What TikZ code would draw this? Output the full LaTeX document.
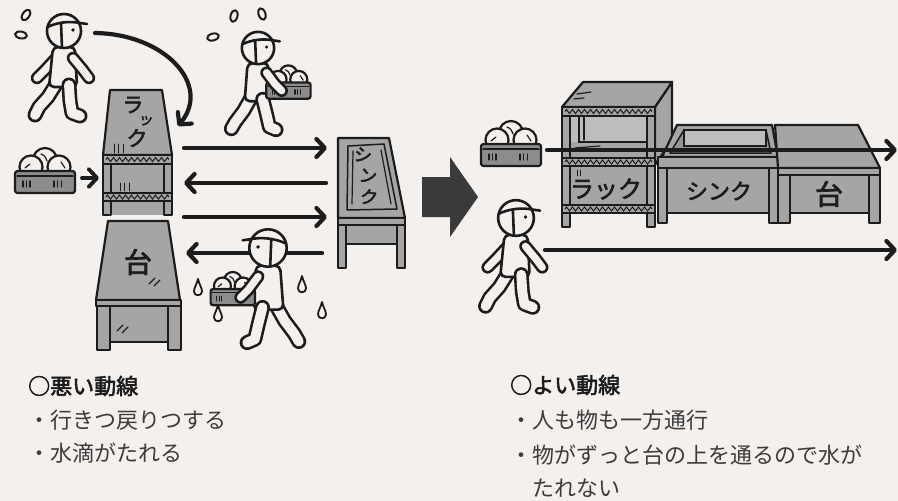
\documentclass[tikz,border=0pt]{standalone}
\usepackage{fontspec}
\newfontfamily\jp[AutoFakeBold=2.5]{Noto Sans CJK JP}
\usetikzlibrary{arrows.meta,decorations.pathmorphing}

\definecolor{paper}{HTML}{F4F0EE}
\definecolor{inkc}{HTML}{1C1C1C}
\definecolor{furnc}{HTML}{A5A5A5}
\definecolor{furnlt}{HTML}{BDBDBD}
\definecolor{furndk}{HTML}{949494}
\definecolor{basketc}{HTML}{8C8C8C}
\definecolor{blockc}{HTML}{3A3A3A}
\definecolor{textc}{HTML}{3C3C3C}

% outlined tube for arms and legs
\newcommand\wkLimb[1]{\draw[limbout] #1; \draw[limbin] #1;}
\newcommand\wkLeg[1]{\draw[legout] #1; \draw[legin] #1;}
% head with cap, seen from the side (facing +x)
\newcommand\wkHead{%
  \draw[body, fill=paper] (0,0) circle (17);
  \draw[body] (-16.5,-4) .. controls (-6,-9) and (6,-10) .. (16,-8) -- (23,-7);
  \draw[body] (-3,-8) -- (-2,16.5);
  \fill[inkc] (9,-1) circle (1.8);
}

\tikzset{
  ink/.style={draw=inkc, line width=2.2pt, line join=round, line cap=round},
  body/.style={draw=inkc, line width=2.6pt, line join=round, line cap=round},
  furn/.style={ink, fill=furnc},
  hair/.style={draw=inkc, line width=1.2pt, line cap=round},
  meshline/.style={draw=inkc, line width=1pt, decorate,
    decoration={zigzag, segment length=6pt, amplitude=2pt}},
  flow/.style={draw=inkc, line width=4.2pt, line cap=round,
    -{Straight Barb[length=8.5pt, width=18pt, round]}},
  limbout/.style={draw=inkc, line width=12.5pt, line cap=round, line join=round},
  limbin/.style={draw=paper, line width=7.3pt, line cap=round, line join=round},
  legout/.style={draw=inkc, line width=15pt, line cap=round, line join=round},
  legin/.style={draw=paper, line width=9.8pt, line cap=round, line join=round},
  notetext/.style={inner sep=0pt, anchor=west, text=textc,
    font=\jp\fontsize{22}{22}\selectfont},
  notehead/.style={inner sep=0pt, anchor=west, text=inkc,
    font=\jp\bfseries\fontsize{22}{22}\selectfont},
  furnlabel/.style={inner sep=0pt, text=inkc,
    font=\jp\bfseries\fontsize{#1}{#1}\selectfont},
  % basket of cabbages, centred on the basket body
  basket/.pic={
    \draw[ink, fill=paper] (0,-21) circle (12);
    \draw[ink, fill=paper] (-14,-14) circle (11.5);
    \draw[ink, fill=paper] (14,-14) circle (11.5);
    \draw[hair] (-20,-13) -- (-15,-17);
    \draw[hair] (-4,-27) .. controls (0,-25) .. (2,-20);
    \draw[hair] (16,-19) -- (20,-13);
    \draw[ink, fill=basketc, rounded corners=2.5pt] (-30,-10) rectangle (30,12);
    \draw[hair] (-28,-5) -- (28,-5);
    \foreach \tx in {-22,-18.5,-15,9,12.5,16.5} { \draw[hair] (\tx,0) -- (\tx,6); }
  },
  % walking worker, empty handed, head centre at origin
  walker/.pic={
    \wkLimb{(-8,27) -- (-19,39) -- (-27,47)}
    \wkLeg{(-6,50) -- (-16,66) -- (-25,76) -- (-29,84)}
    \draw[body, fill=paper, rounded corners=5pt] (-11,16) -- (-15,56) -- (13,56) -- (11,16) -- cycle;
    \wkLeg{(5,54) -- (6,70) -- (8,82) -- (16,85)}
    \wkLimb{(9,27) -- (19,39) -- (25,47)}
    \wkHead
  },
  % walking worker carrying a basket in front
  carrier/.pic={
    \wkLeg{(-6,50) -- (-15,66) -- (-24,78) -- (-28,85)}
    \wkLimb{(-6,26) -- (6,40) -- (18,46)}
    \draw[body, fill=paper, rounded corners=5pt] (-11,16) -- (-14,56) -- (13,56) -- (11,16) -- cycle;
    \wkLeg{(5,54) -- (9,70) -- (12,83) -- (19,86)}
    \pic[scale=0.74] at (32,44) {basket};
    \wkLimb{(9,26) -- (18,38) -- (25,45)}
    \wkHead
  },
  sweat/.pic={\draw[body, line width=2pt, fill=paper] (0,0) ellipse [x radius=6, y radius=3.4];},
  drip/.pic={\draw[body, line width=1.8pt, fill=paper] (0,-9) .. controls (1.5,-3) and (4,0) .. (4,3.5)
      .. controls (4,8.5) and (-4,8.5) .. (-4,3.5) .. controls (-4,0) and (-1.5,-3) .. (0,-9);},
}

\begin{document}
\begin{tikzpicture}[x=1pt, y=-1pt]
\useasboundingbox (0,0) rectangle (898,501);
\fill[paper] (0,0) rectangle (898,501);

% ================= left: crossing flow =================
% rack
\draw[furn] (110,90) -- (162,90) -- (172,155) -- (103,155) -- cycle;
\fill[furnc] (103,155) rectangle (172,215);
\draw[furn] (103,155) rectangle (111,215);
\draw[furn] (164,155) rectangle (172,215);
\draw[furn] (103,155) rectangle (172,164);
\draw[meshline] (106,159.5) -- (169,159.5);
\draw[furn] (103,193) rectangle (172,201);
\draw[meshline] (106,197) -- (169,197);
\foreach \hx in {114,118,123} { \draw[hair, line width=0.9pt] (\hx,144) -- (\hx,153); }
\foreach \hx in {120,124,129} { \draw[hair, line width=0.9pt] (\hx,183) -- (\hx,191); }
\node[furnlabel=21] (rackLa) at (133,105) {ラ};
\node[furnlabel=15, rotate=-10] (rackLb) at (146,121) {ッ};
\node[furnlabel=21] (rackLc) at (137,138) {ク};

% table
\draw[furn] (108,221) -- (168,221) -- (180,300) -- (96,300) -- cycle;
\draw[furn] (96,300) rectangle (181,306);
\draw[furn] (110,306) rectangle (168,342);
\draw[furn] (97,306) rectangle (110,350);
\draw[furn] (168,306) rectangle (181,350);
\node[furnlabel=28] (tableL) at (138,262) {台};
\draw[hair] (149,284) -- (155,278); \draw[hair] (154,286) -- (160,280);
\draw[hair] (117,331) -- (123,325); \draw[hair] (122,333) -- (128,327);

% sink
\draw[furn] (338,138) -- (389,138) -- (405,218) -- (338,218) -- cycle;
\draw[ink, line width=1.5pt] (348,146) -- (384,144) -- (397,209) -- (347,210) -- cycle;
\draw[hair] (353,151) -- (352,204);
\draw[hair] (381,150) -- (391,204);
\draw[furn] (338,218) rectangle (405,225);
\draw[furn] (346,225) rectangle (397,244);
\draw[furn] (338,225) rectangle (346,268);
\draw[furn] (397,225) rectangle (405,268);
\node[furnlabel=18, rotate=-8] (sinkLa) at (363,155) {シ};
\node[furnlabel=18, rotate=-8] (sinkLb) at (368,176) {ン};
\node[furnlabel=18, rotate=-8] (sinkLc) at (369,197) {ク};

% basket and feed arrow
\pic at (45,181) {basket};
\coordinate (feedS) at (82,178);
\coordinate (feedE) at (99,178);
\draw[flow, line width=3.8pt] (feedS) -- (feedE);

% back-and-forth arrows between rack and sink
\coordinate (rk1) at (184,148); \coordinate (sk1) at (327,148);
\coordinate (rk2) at (184,183); \coordinate (sk2) at (326,183);
\coordinate (rk3) at (184,217); \coordinate (sk3) at (327,217);
\coordinate (rk4) at (186,253); \coordinate (sk4) at (322,253);
\draw[flow] (rk1) -- (sk1);
\draw[flow] (sk2) -- (rk2);
\draw[flow] (rk3) -- (sk3);
\draw[flow] (sk4) -- (rk4);

% worker walking back to the rack
\coordinate (walkS) at (95,33);
\coordinate (walkE) at (178,126);
\draw[flow] (walkS) .. controls (165,34) and (212,85) .. (walkE);
\pic at (64,31) {walker};
\pic[rotate=55] at (26,15) {sweat};
\pic[rotate=-10] at (21,35) {sweat};

% worker carrying to the sink
\pic[scale=0.95] at (258,48) {carrier};
\pic[rotate=75] at (234,16) {sweat};
\pic[rotate=110] at (262,14) {sweat};
\pic[rotate=15] at (213,37) {sweat};

% worker carrying back to the table, dripping
\pic[xscale=-1, scale=1.1] at (268,248) {carrier};
\pic at (198,288) {drip};
\pic at (218,314) {drip};
\pic at (302,285) {drip};
\pic at (322,311) {drip};

% ================= change-over arrow =================
\fill[blockc] (422,177) -- (450,177) -- (450,157) -- (478,197) -- (450,237) -- (450,217) -- (422,217) -- cycle;

% ================= right: one-way flow =================
% rack (3-D)
\draw[furn] (655,107) -- (672,82) -- (672,140) -- (655,165) -- cycle;
\draw[furn] (562,107) -- (583,82) -- (672,82) -- (655,107) -- cycle;
\draw[hair] (577,94) -- (591,92); \draw[hair] (574,99) -- (584,98);
\fill[furnlt] (570,116) rectangle (647,158);
\fill[furnc] (570,142) rectangle (647,158);
\draw[hair] (579,116) -- (579,142) -- (647,142);
\draw[hair] (584,116) -- (584,140);
\draw[hair] (575,148) -- (600,146);
\fill[furnc] (570,166) rectangle (647,205);
\draw[furn] (562,107) rectangle (570,227);
\draw[furn] (647,107) rectangle (655,227);
\draw[furn] (562,107) rectangle (655,116);
\draw[meshline] (565,111.5) -- (652,111.5);
\draw[furn] (562,158) rectangle (655,166);
\draw[meshline] (565,162) -- (652,162);
\draw[furn] (562,205) rectangle (655,213);
\draw[meshline] (565,209) -- (652,209);
\draw[hair, line width=0.9pt] (577,170) -- (577,176); \draw[hair, line width=0.9pt] (580,170) -- (580,176);
\node[furnlabel=24] (rackR) at (606,189) {ラック};

% sink (3-D)
\draw[furn] (662,157) -- (677,125) -- (772,125) -- (778,157) -- cycle;
\draw[ink, line width=1.5pt, fill=furndk] (670,153) -- (684,130) -- (766,130) -- (771,153) -- cycle;
\draw[hair, fill=furnlt] (684,130) rectangle (766,146);
\draw[furn] (658,157) rectangle (778,168);
\draw[furn] (667,168) rectangle (769,213);
\draw[furn] (658,168) rectangle (667,223);
\draw[furn] (769,168) rectangle (778,223);
\node[furnlabel=22] (sinkR) at (719,191) {シンク};

% table (3-D)
\draw[furn] (778,168) -- (775,125) -- (858,125) -- (880,168) -- cycle;
\draw[furn] (778,168) rectangle (880,175);
\draw[furn] (790,175) rectangle (869,213);
\draw[furn] (778,175) rectangle (790,223);
\draw[furn] (869,175) rectangle (880,223);
\node[furnlabel=28] (tableR) at (829,194) {台};

% basket and goods flow over the benches
\pic at (511,154) {basket};
\coordinate (goodS) at (547,150); \coordinate (goodE) at (897,150);
\draw[flow] (goodS) -- (goodE);

% worker and worker flow
\coordinate (manS) at (545,250); \coordinate (manE) at (897,250);
\draw[flow] (manS) -- (manE);
\pic[scale=1.05] at (516,218) {walker};

% ================= captions =================
\node[notehead] (badHead) at (28,386) {○悪い動線};
\node[notetext] (badA) at (28,420) {・行きつ戻りつする};
\node[notetext] (badB) at (28,453) {・水滴がたれる};

\node[notehead] (goodHead) at (510,385) {○よい動線};
\node[notetext] (goodA) at (510,420) {・人も物も一方通行};
\node[notetext] (goodB) at (510,455) {・物がずっと台の上を通るので水が};
\node[notetext] (goodC) at (532,488) {たれない};
\end{tikzpicture}
\end{document}
